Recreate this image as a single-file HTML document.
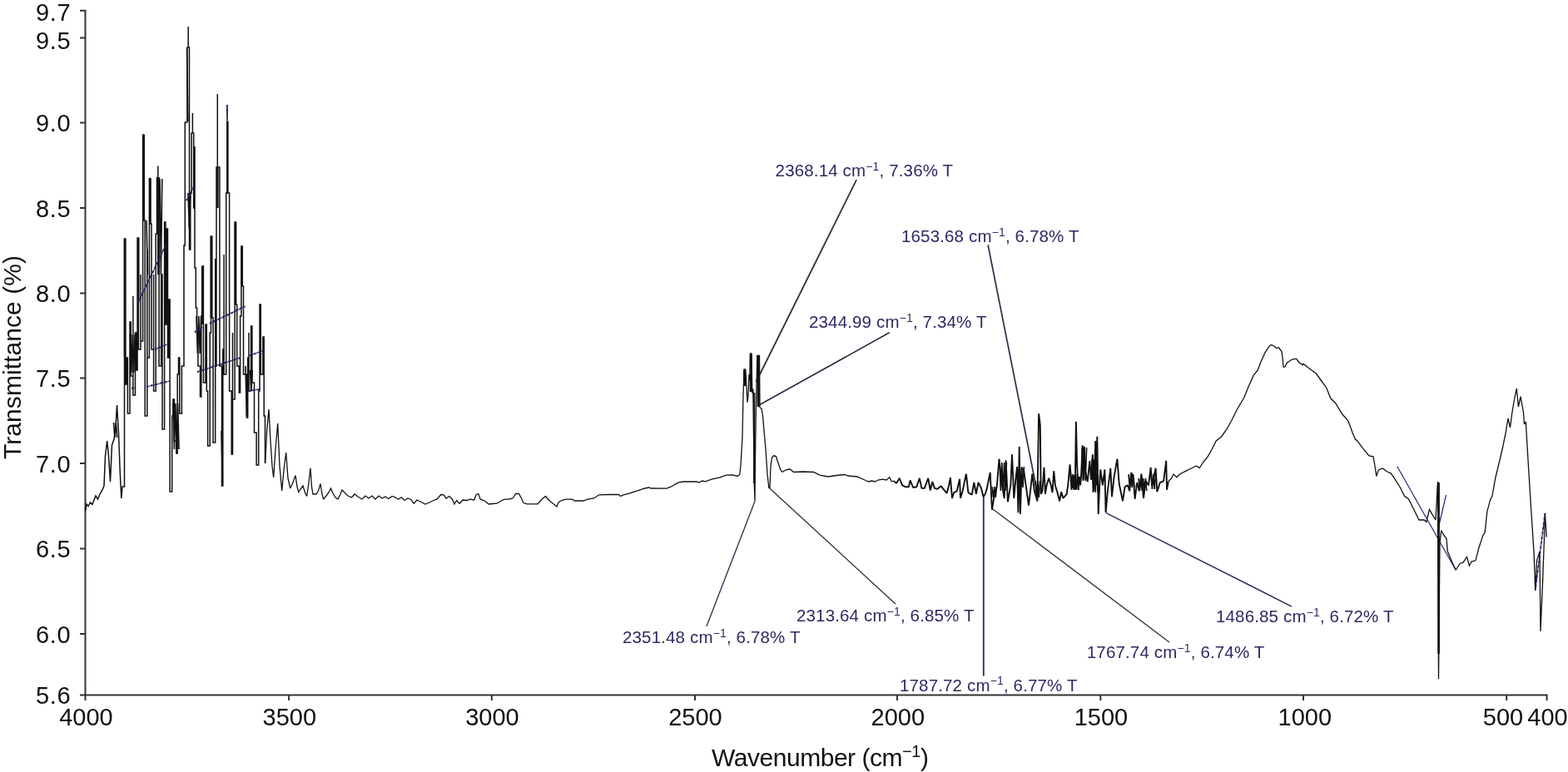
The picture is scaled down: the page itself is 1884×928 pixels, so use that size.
<!DOCTYPE html>
<html lang="en">
<head>
<meta charset="utf-8">
<title>FTIR spectrum</title>
<style>
html,body{margin:0;padding:0;background:#fff;}
body{width:1884px;height:928px;overflow:hidden;font-family:"Liberation Sans",sans-serif;}
svg{display:block;}
text{font-family:"Liberation Sans",sans-serif;}
.tick{font-size:29px;fill:#111;}
.title{font-size:30px;fill:#111;}
.ann{font-size:20.5px;fill:#2c2a63;}
.sup{font-size:14px;}
.tsup{font-size:20px;}
.axis{stroke:#333333;stroke-width:2;fill:none;}
.lead{stroke:#2b2b40;stroke-width:1.4;fill:none;}
.spec{stroke:#111;stroke-width:1.5;fill:none;stroke-linejoin:miter;stroke-miterlimit:3;}
.sa{stroke-width:1.5;}
.sb{stroke-width:1.3;}
.sc{stroke-width:1.9;stroke-linejoin:bevel;}
.mark{stroke:#211f66;stroke-width:1.1;fill:none;}
</style>
</head>
<body>
<svg width="1884" height="928" viewBox="0 0 1884 928">
<rect x="0" y="0" width="1884" height="928" fill="#ffffff"/>
<g class="axis">
<path d="M96 12.7H102.5V835.4"/>
<path d="M96 835.4H1858.6V842"/>
<path d="M96 45.5H102.5"/>
<path d="M96 147.5H102.5"/>
<path d="M96 250H102.5"/>
<path d="M96 352.5H102.5"/>
<path d="M96 454.5H102.5"/>
<path d="M96 557H102.5"/>
<path d="M96 659.5H102.5"/>
<path d="M96 762H102.5"/>
<path d="M102.5 835.4V842"/>
<path d="M347.1 835.4V842"/>
<path d="M590.8 835.4V842"/>
<path d="M835 835.4V842"/>
<path d="M1078 835.4V842"/>
<path d="M1322.3 835.4V842"/>
<path d="M1566 835.4V842"/>
<path d="M1810.2 835.4V842"/>
</g>
<g class="tick">
<text x="85.2" y="25" text-anchor="end" style="letter-spacing:0.6px">9.7</text>
<text x="85.2" y="59" text-anchor="end" style="letter-spacing:0.6px">9.5</text>
<text x="85.2" y="158.0" text-anchor="end" style="letter-spacing:0.6px">9.0</text>
<text x="85.2" y="260.5" text-anchor="end" style="letter-spacing:0.6px">8.5</text>
<text x="85.2" y="363.0" text-anchor="end" style="letter-spacing:0.6px">8.0</text>
<text x="85.2" y="465.0" text-anchor="end" style="letter-spacing:0.6px">7.5</text>
<text x="85.2" y="567.5" text-anchor="end" style="letter-spacing:0.6px">7.0</text>
<text x="85.2" y="670.0" text-anchor="end" style="letter-spacing:0.6px">6.5</text>
<text x="85.2" y="772.5" text-anchor="end" style="letter-spacing:0.6px">6.0</text>
<text x="85.2" y="846" text-anchor="end" style="letter-spacing:0.6px">5.6</text>
<text x="103.5" y="872.2" text-anchor="middle">4000</text>
<text x="347.8" y="872.2" text-anchor="middle">3500</text>
<text x="591.4" y="872.2" text-anchor="middle">3000</text>
<text x="835.5" y="872.2" text-anchor="middle">2500</text>
<text x="1078.8" y="872.2" text-anchor="middle">2000</text>
<text x="1323" y="872.2" text-anchor="middle">1500</text>
<text x="1567.8" y="872.2" text-anchor="middle">1000</text>
<text x="1806" y="872.2" text-anchor="middle">500</text>
<text x="1859.5" y="872.2" text-anchor="middle">400</text>
</g>
<text class="title" x="855" y="921" textLength="261" lengthAdjust="spacing">Wavenumber (cm<tspan class="tsup" dy="-11.5">−1</tspan><tspan dy="11.5">)</tspan></text>
<text class="title" transform="translate(24.5 552) rotate(-90)" textLength="245" lengthAdjust="spacing">Transmittance (%)</text>
<g class="ann">
<text x="931.6" y="211.8" textLength="213.5" lengthAdjust="spacing">2368.14 cm<tspan class="sup" dy="-7.3">−1</tspan><tspan dy="7.3">, 7.36% T</tspan></text>
<text x="1083" y="291" textLength="213.5" lengthAdjust="spacing">1653.68 cm<tspan class="sup" dy="-7.3">−1</tspan><tspan dy="7.3">, 6.78% T</tspan></text>
<text x="972" y="394" textLength="213.5" lengthAdjust="spacing">2344.99 cm<tspan class="sup" dy="-7.3">−1</tspan><tspan dy="7.3">, 7.34% T</tspan></text>
<text x="748" y="773" textLength="213.5" lengthAdjust="spacing">2351.48 cm<tspan class="sup" dy="-7.3">−1</tspan><tspan dy="7.3">, 6.78% T</tspan></text>
<text x="957" y="747" textLength="213.5" lengthAdjust="spacing">2313.64 cm<tspan class="sup" dy="-7.3">−1</tspan><tspan dy="7.3">, 6.85% T</tspan></text>
<text x="1081" y="830.5" textLength="213.5" lengthAdjust="spacing">1787.72 cm<tspan class="sup" dy="-7.3">−1</tspan><tspan dy="7.3">, 6.77% T</tspan></text>
<text x="1305.8" y="791" textLength="213.5" lengthAdjust="spacing">1767.74 cm<tspan class="sup" dy="-7.3">−1</tspan><tspan dy="7.3">, 6.74% T</tspan></text>
<text x="1461" y="748" textLength="213.5" lengthAdjust="spacing">1486.85 cm<tspan class="sup" dy="-7.3">−1</tspan><tspan dy="7.3">, 6.72% T</tspan></text>
</g>
<g class="lead">
<path d="M1029.1 216.2L908.5 459" style="stroke-width:1.8;stroke:#303038"/>
<path d="M1187.1 294.3L1247.5 598" style="stroke-width:1.7;stroke:#2b2b45"/>
<path d="M1068.7 399.8L911 487.5" style="stroke-width:1.6;stroke:#2b2b45"/>
<path d="M907 602.5L848.9 753" style="stroke-width:1.3;stroke:#2b2b45"/>
<path d="M923.7 586L1076 726" style="stroke-width:1.3;stroke:#303038"/>
<path d="M1181.8 596L1181.8 812.5" style="stroke-width:1.8;stroke:#2a2a5a"/>
<path d="M1191.6 611L1405 772" style="stroke-width:1.3;stroke:#303038"/>
<path d="M1329 616.5L1552 729" style="stroke-width:1.4;stroke:#2a2a5a"/>
</g>
<g class="lead" style="stroke:#25237a;stroke-width:1.2">
<path d="M1678.7 560.5L1749 685"/>
<path d="M1737.5 595L1727 640"/>
</g>
<path class="spec sa" d="M102.5 614 104 606 106 608.5 108.5 604 111 606.5 113 601 115 596 117.5 600 120 594 122.5 590 125 584 126.5 548 128.7 530 130.5 548 132.5 579 134.5 535 137 528 139 514 140.5 487
142.5 520 144 562 145.8 599 147 585 147 585 149.5 585 149.5 287 150.8 287 150.8 462 152.1 462 152.1 430 153.4 430 153.4 497 156 497 156 387 157.3 387 157.3 452 159.9 452 159.9 356
159.9 475 162.5 475 162.5 400 163.8 400 163.8 445 165.1 445 165.1 286 166.4 286 166.4 420 169 420 169 330 169 410 171.6 410 171.6 162 172.9 162 172.9 265 174.2 265 174.2 500 176.8
500 176.8 300 176.8 430 179.4 430 179.4 214.5 180.7 214.5 180.7 269 182 269 182 420 184.6 420 184.6 330 184.6 470 187.2 470 187.2 281 188.5 281 188.5 213.8 189.8 213.8 189.8 199.5
189.8 213.8 191.1 213.8 191.1 440 193.7 440 193.7 330 195 330 195 516 197.6 516 197.6 267 198.9 267 198.9 390 200.2 390 200.2 275 201.5 275 201.5 430 202.8 430 202.8 360 204.1 360
204.1 591 206.7 591 206.7 500 208 500 208 480 209.3 480 209.3 530 211.9 530 211.9 545 213.2 545 213.2 450 214.5 450 214.5 430 215.8 430 215.8 497 218.4 497 218.4 440 221 440 221 295
222.3 295 222.3 147 224.9 147 224.9 57 226.2 57 226.2 32 226.2 57 227.5 57 227.5 147 227.5 300 228.8 300 228.8 232 230.1 232 230.1 160 231.4 160 231.4 136 231.4 160 232.7 160 232.7
250 234 250 234 176 234 322 235.3 322 235.3 370 236.6 370 236.6 400 237.9 400 237.9 440 240.5 440 240.5 477 241.8 477 241.8 380 243.1 380 243.1 320 244.4 320 244.4 460 247 460 247
390 248.3 390 248.3 470 249.6 470 249.6 536 252.2 536 252.2 400 253.5 400 253.5 284 254.8 284 254.8 382 256.1 382 256.1 532 258.7 532 258.7 311 258.7 440 260 440 260 201 261.3 201
261.3 113 261.3 201 263.9 201 263.9 440 266.5 440 266.5 584 267.8 584 267.8 420 269.1 420 269.1 306 269.1 450 271.7 450 271.7 232 273 232 273 127.5 273 232 275.6 232 275.6 470 278.2
470 278.2 546 279.5 546 279.5 400 279.5 480 282.1 480 282.1 267 283.4 267 283.4 366 284.7 366 284.7 440 287.3 440 287.3 472 288.6 472 288.6 380 289.9 380 289.9 296 291.2 296 291.2
344 292.5 344 292.5 450 296.4 450 296.4 502 297.7 502 297.7 430 299 430 299 400 299 470 301.6 470 301.6 392 302.9 392 302.9 460 305.5 460 305.5 520 308.1 520 308.1 559 310.7 559
310.7 470 312 470 312 366 313.3 366 313.3 450 315.9 450 315.9 405 317.2 405 317.2 500 318.5 500 318.5 557"/>
<path class="spec sb" d="M318.7 557 320.5 520 323 492 325 530 327 560 328.7 574 331 540 333.7 509 336 560 338.7 590 341 565 343.7 544 346 575 348.7 587 352 580 355 571.5 357 585 358.7 591.5 361 588 364 584
366.5 592 368.7 596.5 371 580 373 562.7 374.5 585 376 594 380 594 382.5 590 385 581.5 387 594 388.7 600 392 596 395 592 397.5 587 400 593 403 598 406 600 409 594 411 589 414 592 418
596 422.5 598 426 594 430 597 435 600 439 596 443 599 447 596 451 600 455 596 459 599 463 597 467 599.5 471 596.5 474.8 597.8 478.5 600.2 482.2 597.8 486 601.5 489.8 599 493.5 600.2
497.2 605.2 501 601 506 603.5 511 606 516 604 521 601.5 524.8 600.2 529.8 594.5 533.5 595.2 536 599 539.8 596.5 543.5 600.2 546 606 548.5 601.5 552.2 605.2 556 601 561 601.5 564.8
600.2 569.8 601 572.2 594.5 574.8 593.5 577.2 600.2 582.2 602 587.2 606 592.2 605.5 597.2 605.2 602.2 602 606 600.2 611 600.2 616 599 619.8 593.5 623.5 593.5 626.5 599 629 604.5
633.5 605.8 646 605.8 651 600.2 655.5 596.5 658.5 600.2 662.2 603.5 666 606.5 669 609 671 604 674.8 601.5 679.8 600.2 687.2 600.2 691 602 701 602 706 600.2 713.5 599 719.8 594.8 731
594.5 743.5 594.5 745.5 596.5 748.5 595.2 756 593.2 766 589.8 774.8 587 779.8 586 782.2 587 801 587.2 806 585.2 814.8 580.2 821 579 837.2 579 840 580 843.8 578 847.5 578.8 855 576.2
865 573.8 872.5 571.2 880 570.8 886.2 572.5 888.8 570 890 560 892 525 893 475 894.2 443.8 895.8 443.8 897 465 898 483.8 899 475 900 450 901 457.5 901.5 425 903 425 903.8 472.5 904.8
467.5 905.5 525 906.2 580 907 602.5 907.5 550 908.2 500 909.8 427.5 912.5 427.5 913 490 915 491.2 916.5 500 918 517.5 920 540 922 570 923.8 586.2 925 586.2 926 560 927.5 550 930
547.5 932.5 548.8 934.5 555 936.2 560 938 565 940 567.5 943.8 565 948.8 563.8 953.8 567.5 965 567 977.5 567.5 985 571.2 995 573 1005 571.5 1015 570.5 1018.8 572 1030 573 1040 577.5
1043.8 579 1047.5 578 1051.2 579 1055 577 1060 576.2 1065 577 1068.8 573.8 1071.2 578.8 1073.8 578"/>
<path class="spec sc" d="M1073.8 578 1074.7 579.1 1077.2 580.9 1080.7 574.8 1084.1 583.4 1087.6 585.2 1091.9 585.2 1093.6 577.4 1097.1 586 1101.4 585.2 1104.8 574.8 1107.4 586.9 1110.9 586.9 1115.2 574.8
1117.8 589.5 1120.3 579.1 1122.9 586.9 1126.4 587.8 1130.7 584.3 1134.1 588.6 1137.6 592.9 1140.2 583.4 1141.9 574 1144 599 1146.2 592.1 1149.7 590.3 1153.1 575.7 1154 599 1156.6
590.3 1160.9 569.7 1163.4 592.1 1167.8 594.7 1170.3 580 1172.9 593.8 1175.5 580 1179 586.9 1181.6 597.2 1183.8 593.8 1185.9 586.9 1189.7 567.9 1191.9 612.8 1194.5 597.2 1197.9 583.4
1200.5 551.6 1203.1 576.6 1206.6 599 1208.6 553.3 1210.9 603.3 1214.3 583.4 1216 546.4 1218.3 599 1220.3 576.6 1222.1 561 1223.4 616.2 1224.7 536.9 1225.9 617.9 1227.6 562.8 1230
564.5 1232.6 583.4 1236 607.6 1237.8 592.1 1240.3 569.7 1242.9 590.3 1246.4 602.4 1248.1 497.2 1249.8 511 1250.7 593.8 1252.4 590.3 1254.5 561.9 1255.9 593.8 1257.6 583.4 1260.2
574.8 1262.8 583.4 1264.5 592.1 1266.2 566.2 1267.9 583.4 1270.5 592.1 1273.1 602.4 1275.2 591.2 1277.4 599 1281.7 593.8 1283.4 581.7 1285.5 558.4 1286.9 573.1 1288.6 586.9 1290.3
571.4 1291.7 588.6 1292.9 506.7 1294.1 558.4 1295.5 588.6 1296.9 573.1 1298.1 583.4 1299 573.1 1300.7 535.2 1301.7 576.6 1302.8 536.9 1304.1 566.2 1306.7 579.1 1309.3 554.1 1311
576.6 1312.8 546.4 1314.5 590.3 1316.2 530 1317.2 583.4 1318.3 524.8 1319.7 617.9 1321 586.9 1322.2 564.5 1324.8 583.4 1327.4 564.5 1328.6 616.2 1330.9 590.3 1334.3 562.8 1336 597.2
1338.6 573.1 1342.4 551.6 1344.7 581.7 1349 602.4 1351.6 585.2 1355 583.4 1357.2 590.3 1359.3 567.9 1361.9 576.6 1363.6 599.8 1366.2 580 1368.8 590.3 1371.4 569.7 1374 599 1376.6
578.3 1380 583.4 1382.6 561.9 1384.3 583.4 1388.6 562.8 1390.3 591.2 1393.8 580 1398.1 578.3 1401.2 553.8 1402 588.8 1403.8 578.8"/>
<path class="spec sb" d="M1403.8 578.8 1407.5 575 1410 570 1413.8 573.8 1417.5 570 1425 566.2 1432.5 562.5 1437.5 560 1441.2 562.5 1446.2 555 1451.2 548.8 1456.2 540 1461.2 530 1467.5 525 1473.8 516.2 1480
505 1486.2 492.5 1495 477.5 1500 465 1506.2 451.2 1511.2 445 1515 435 1520 423.8 1525 416.2 1527.5 414.5 1531.2 416.2 1533.8 418.8 1536.2 417.5 1540 422.5 1541 430 1542 441.2 1543.8
441.2 1546.2 436.2 1552.5 432 1557.5 431.2 1561.2 436.2 1563.8 437.5 1565 438.8 1566.2 437.5 1572.5 442.5 1581.2 448.8 1587.5 457.5 1593.8 466.2 1598.8 478.8 1605 485 1612.5 497.5
1620 506.2 1625 520 1628.8 528.8 1630 528.8 1637.5 538.8 1645 548 1650 548.8 1652 560 1653.8 572.5 1656.2 565 1661.2 563 1667.5 567.5 1671.2 568.8 1676.2 576.2 1682.5 586.2 1687.5
596.2 1692.5 600 1698.8 612.5 1705 625 1711.2 625 1713.8 627.5 1717.5 612.5 1721.2 618.8 1725 625 1727.5 578.8 1728.5 816.2 1730 652.5 1731.8 637.5 1734.2 642.5 1738 647.5 1739.2
662.5 1745.5 677.5 1749.2 685 1754.2 677.5 1758 676.2 1762.5 669.5 1765.5 680 1768 675 1773 673.8 1776.8 658.8 1781.8 643.8 1784.2 640 1786.8 615 1790.5 601.2 1793 596 1796.8 574.5
1802 553 1805.5 538 1809 521 1812 503 1814.5 514 1817 495 1819.8 478.5 1822.3 467 1824.4 489 1827 476.7 1830.5 496 1831.5 510 1833.3 507 1835.8 549.6 1839.3 606.5 1843 663 1844.7
709.6 1846.5 674 1850 663 1851 759 1853.6 699 1855.4 649 1856.4 617 1858.2 645.6"/>
<path d="M1728.6 580V786" stroke="#111" stroke-width="2.6" fill="none"/>
<path d="M894.6 444.5V464M902.2 425.5V471M911.2 428V489" stroke="#111" stroke-width="3" fill="none"/>
<path d="M906.2 472V581" stroke="#111" stroke-width="2.2" fill="none"/>
<path d="M172.8 162V265M273.4 146V232M261.4 201V250M180.4 214.5V270M150 287V430M166.2 286V360M190.3 214V330M199.6 277V390M243.2 320V390M253.8 284V382M283 267V366M290.8 296V344" stroke="#111" stroke-width="2.5" fill="none"/>
<g class="spec" style="stroke-width:1.6;stroke-linejoin:bevel">
<path d="M1192 585 1193.4 598 1194.8 585 1196.2 598 1197.6 585"/>
<path d="M1201 556 1202.4 590 1203.8 556 1205.2 590 1206.6 556 1208 590 1209.4 556"/>
<path d="M1222 561 1223.4 586 1224.8 561 1226.2 586 1227.6 561 1229 586 1230.4 561"/>
<path d="M1244 578 1245.4 598 1246.8 578 1248.2 598 1249.6 578"/>
<path d="M1286 570 1287.4 589 1288.8 570 1290.2 589 1291.6 570 1293 589 1294.4 570 1295.8 589"/>
<path d="M1300 538 1301.4 578 1302.8 538 1304.2 578 1305.6 538"/>
<path d="M1312 552 1313.4 592 1314.8 552 1316.2 592 1317.6 552 1319 592"/>
<path d="M1356 570 1357.4 586 1358.8 570 1360.2 586 1361.6 570 1363 586"/>
<path d="M1368 575 1369.4 590 1370.8 575 1372.2 590 1373.6 575 1375 590 1376.4 575 1377.8 590"/>
<path d="M1383 570 1384.4 588 1385.8 570 1387.2 588 1388.6 570"/>
<path d="M156.5 402 157.9 448 159.3 402 160.7 448 162.1 402"/>
<path d="M136.5 508 137.9 526 139.3 508 140.7 526"/>
<path d="M208 485 209.4 540 210.8 485 212.2 540 213.6 485 215 540"/>
<path d="M236 380 237.4 425 238.8 380 240.2 425 241.6 380"/>
<path d="M176 265 177.4 330"/>
<path d="M192 215 193.4 330 194.8 215"/>
<path d="M226 232 227.4 275 228.8 232"/>
<path d="M224.5 58 225.9 146"/>
<path d="M300.5 445 301.9 470 303.3 445"/>
<path d="M295 440 296.4 500"/>
<path d="M266 518 267.4 580"/>
</g>
<g class="mark">
<path d="M165.9 364L200.3 292.4"/>
<path d="M186 420L203 413"/>
<path d="M176 465L204 458"/>
<path d="M158 467L162 466"/>
<path d="M234 399.3L243.4 393.3"/>
<path d="M252 389L294.3 368.3"/>
<path d="M224 241L232.5 225"/>
<path d="M300 427.5L317.5 421"/>
<path d="M237 447L289 430"/>
<path d="M298 470L312 468"/>
<path d="M273 126L273 138"/>
<path d="M1856.4 617L1844.7 709.6"/>
</g>
<g class="mark" style="stroke-width:2.3;stroke-dasharray:1.5 4.3">
<path d="M165.9 364L200.3 292.4"/>
<path d="M186 420L203 413"/>
<path d="M176 465L204 458"/>
<path d="M158 467L162 466"/>
<path d="M234 399.3L243.4 393.3"/>
<path d="M252 389L294.3 368.3"/>
<path d="M224 241L232.5 225"/>
<path d="M300 427.5L317.5 421"/>
<path d="M237 447L289 430"/>
<path d="M298 470L312 468"/>
<path d="M273 126L273 138"/>
<path d="M1856.4 617L1844.7 709.6"/>
</g>
</svg>
</body>
</html>
